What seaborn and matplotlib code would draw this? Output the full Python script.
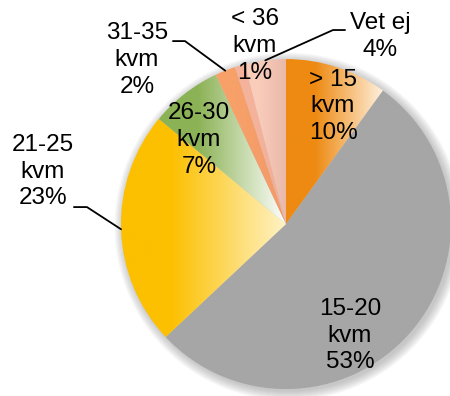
import numpy as np
import seaborn as sns
from matplotlib import pyplot as plt
from matplotlib.colors import LinearSegmentedColormap
from matplotlib.patches import Circle

# Data
categories = ["> 15\nkvm", "15-20\nkvm", "21-25\nkvm", "26-30\nkvm", "31-35\nkvm", "< 36\nkvm", "Vet ej"]
shares = [10, 53, 23, 7, 2, 1, 4]

# gradient (left colour, right colour) for each slice
gradients = [
    ("#EE8A12", "#FEF0DC"),
    ("#A6A6A6", "#A6A6A6"),
    ("#FCC000", "#FFF3C8"),
    ("#8BB255", "#FFFFFF"),
    ("#F7A068", "#F29A6A"),
    ("#F4B39A", "#F0AE96"),
    ("#FACDBB", "#E9B8AA"),
]

# label positions (data units, pie radius = 1) and which get a leader line
label_pos = [(0.285, 0.715), (0.388, -0.676), (-1.473, 0.318), (-0.527, 0.509),
             (-0.903, 0.994), (-0.188, 1.079), (0.570, 1.136)]
leaders = {2: [(-1.285, 0.103), (-1.206, 0.103)],
           4: [(-0.685, 1.109), (-0.612, 1.109)],
           6: [(0.358, 1.176), (0.285, 1.176)]}

sns.set_style("white")
plt.rcParams["font.family"] = ["Liberation Sans", "DejaVu Sans"]

fig = plt.figure(figsize=(4.5, 3.96), dpi=100)
ax = fig.add_axes([0, 0, 1, 1])
ax.axis("off")

# soft shadow behind the pie
for i in range(10):
    ax.add_patch(Circle((0.015, -0.015), 1.0 + 0.006 * i, color="#808080", alpha=0.05, lw=0, zorder=0))

wedges, _ = ax.pie(shares, startangle=90, counterclock=False, radius=1.0,
                   colors=[g[0] for g in gradients], wedgeprops=dict(linewidth=0))

for w, (c1, c2) in zip(wedges, gradients):
    t = np.radians(np.linspace(w.theta1, w.theta2, 100))
    xs = np.concatenate([[0], np.cos(t)])
    ys = np.concatenate([[0], np.sin(t)])
    cmap = LinearSegmentedColormap.from_list("g", [(0, c1), (0.3, c1), (1, c2)])
    grad = np.linspace(0, 1, 256).reshape(1, -1)
    w.set_facecolor("none")
    im = ax.imshow(grad, cmap=cmap, aspect="auto", interpolation="bilinear",
                   extent=(xs.min(), xs.max(), ys.min(), ys.max()), zorder=1)
    im.set_clip_path(w)

for i, (label, share) in enumerate(zip(categories, shares)):
    x, y = label_pos[i]
    ax.text(x, y, f"{label}\n{share}%", ha="center", va="center",
            fontsize=17.5, linespacing=1.27, color="black", zorder=5)
    if i in leaders:
        w = wedges[i]
        mid = np.radians((w.theta1 + w.theta2) / 2)
        pts = leaders[i] + [(np.cos(mid), np.sin(mid))]
        ax.plot([p[0] for p in pts], [p[1] for p in pts], color="black", lw=1.3, zorder=4)

ax.set_xlim(-1.733, 0.994)
ax.set_ylim(-1.042, 1.358)
ax.set_aspect("auto")

fig.savefig("out.png", dpi=100)
